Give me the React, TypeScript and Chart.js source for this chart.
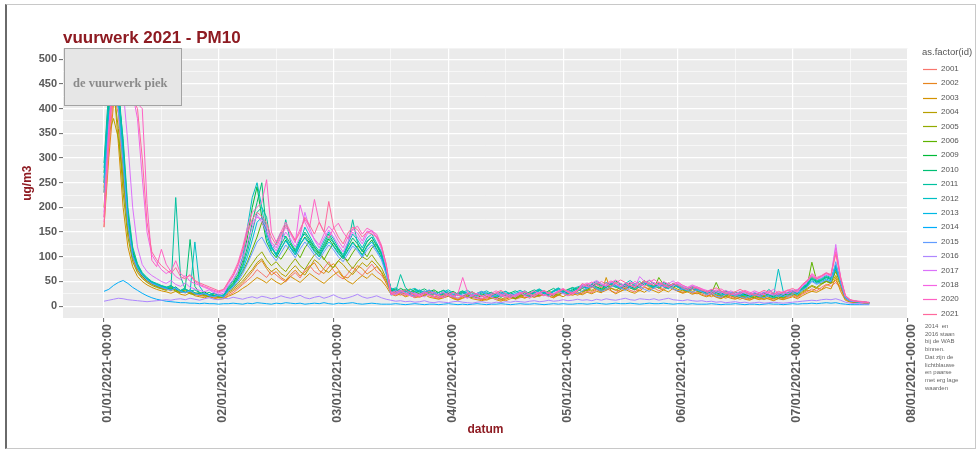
import React, { useEffect, useRef } from 'react';
import { Chart, registerables } from 'chart.js';

Chart.register(...registerables);

const SANS = "'Liberation Sans', Arial, sans-serif";
const SERIF = "'Liberation Serif', 'DejaVu Serif', serif";
const DARKRED = '#8E1B22';
const TICK_TEXT = '#5a5a5a';

const TITLE = 'vuurwerk 2021 - PM10';
const X_TITLE = 'datum';
const Y_TITLE = 'ug/m3';
const LEGEND_TITLE = 'as.factor(id)';
const NOTE_LINES = ['2014  en', '2016 staan', 'bij de WAB', 'binnen.', 'Dat zijn de', 'lichtblauwe', 'en paarse', 'met erg lage', 'waarden'];

// hours since 01/01/2021 00:00
const HOURS = [0,1,2,3,4,5,6,7,8,9,10,11,12,13,14,15,16,17,18,19,20,21,22,23,24,25,26,27,28,29,30,31,32,33,34,35,36,37,38,39,40,41,42,43,44,45,46,47,48,49,50,51,52,53,54,55,56,57,58,59,60,61,62,63,64,65,66,67,68,69,70,71,72,73,74,75,76,77,78,79,80,81,82,83,84,85,86,87,88,89,90,91,92,93,94,95,96,97,98,99,100,101,102,103,104,105,106,107,108,109,110,111,112,113,114,115,116,117,118,119,120,121,122,123,124,125,126,127,128,129,130,131,132,133,134,135,136,137,138,139,140,141,142,143,144,145,146,147,148,149,150,151,152,153,154,155,156,157,158,159,160];

const X_TICKS = [0, 24, 48, 72, 96, 120, 144, 168];
const X_MINOR = [12, 36, 60, 84, 108, 132, 156];
const X_TICK_LABELS = ['01/01/2021-00:00', '02/01/2021-00:00', '03/01/2021-00:00', '04/01/2021-00:00', '05/01/2021-00:00', '06/01/2021-00:00', '07/01/2021-00:00', '08/01/2021-00:00'];
const Y_TICKS = [0, 50, 100, 150, 200, 250, 300, 350, 400, 450, 500];
const Y_MINOR = [25, 75, 125, 175, 225, 275, 325, 375, 425, 475];
const X_MIN = -8.57;
const X_MAX = 168.1;
const Y_MIN = -24;
const Y_MAX = 522;

const SERIES_IDS = ['2001','2002','2003','2004','2005','2006','2009','2010','2011','2012','2013','2014','2015','2016','2017','2018','2020','2021'];
const SERIES_COLORS = ['#F8766D','#E7851E','#D39200','#B79F00','#93AA00','#5EB300','#00BA38','#00BF74','#00C19F','#00BFC4','#00B9E3','#00ADFA','#619CFF','#AE87FF','#DB72FB','#F564E3','#FF61C3','#FF699C'];

const S2001 = [180,320,430,390,250,150,95,70,58,49,44,40,36, 33,38,30,28,34,26,24,21,23,18,17,19,16, 22,27,35,44,52,61,74,66,58,71,63,55,49,60,68,57,74,82,70,64,77,90,72,61,55,66,79,70,62,74,85,71,63,48, 30,26,22,27,24,19,23,28,21,18,16,20,24,17,14,19,22,18,15,13,17,20,15,12,16,19,14,17,21,16,23,19,25,20,17,22,27,21,24,28, 25,30,27,33,29,36,31,27,34,38,32,29,35,40,33,37,31,36,42,34,30,27,32,26,29,24, 21,25,19,17,22,18,15,20,16,13,17,14,19,15,12,16,14,18,21,17, 24,29,35,31,38,44,40,48,36,14,10,8,9,7,7];
const S2002 = [160,300,410,420,300,170,110,78,62,52,46,41,37, 35,31,36,29,27,31,25,22,20,24,19,17,18, 25,31,38,47,58,70,84,92,76,63,70,58,52,64,73,61,69,80,88,72,66,79,86,74,60,57,68,82,76,65,72,80,68,46, 28,24,27,21,25,20,18,22,26,19,15,18,21,16,13,17,20,23,17,14,12,16,19,14,11,15,18,22,17,20,18,24,21,26,19,23,29,24,27,22, 27,33,30,35,28,32,37,33,30,36,41,34,31,38,35,42,37,33,39,35,31,28,33,27,25,28, 23,19,24,20,16,21,17,14,18,15,20,16,13,17,15,19,16,20,24,19, 26,32,30,37,34,42,46,52,38,15,9,8,7,6,6];
const S2003 = [240,380,450,330,200,120,80,60,50,43,38,34,31, 29,26,30,24,22,27,21,19,17,20,16,14,15, 20,24,29,36,42,50,58,53,47,56,49,44,51,60,54,48,57,66,59,52,46,55,63,70,58,50,45,54,62,56,66,58,52,40, 24,21,25,19,22,17,20,24,18,16,14,17,20,15,12,16,19,15,13,11,14,17,13,10,14,18,15,19,16,22,18,21,26,20,17,23,19,25,22,26, 23,28,25,30,27,58,31,25,30,34,29,26,32,28,35,31,27,33,29,36,30,26,29,24,27,22, 19,23,18,15,20,16,14,18,14,12,16,13,17,14,11,15,13,16,19,15, 21,26,30,28,33,38,35,58,30,12,8,7,7,6,6];
const S2004 = [200,350,380,340,260,160,100,74,60,52,45,40,36, 34,38,32,29,33,27,25,28,22,20,23,18,19, 28,34,42,51,63,74,88,96,80,70,77,66,60,72,82,70,63,78,94,86,74,68,80,92,84,72,64,76,88,80,92,82,70,52, 32,27,30,24,28,22,25,29,23,20,18,22,25,19,16,20,24,21,17,15,19,22,17,14,18,21,16,20,24,19,26,22,28,23,20,25,31,26,29,25, 30,36,32,39,34,41,36,32,38,43,37,33,40,46,38,42,36,41,47,39,34,31,36,30,33,27, 25,29,22,20,26,21,18,23,19,16,21,17,22,18,15,19,16,21,25,20, 28,34,40,36,44,50,46,62,42,16,10,8,8,7,6];
const S2005 = [230,400,440,360,230,140,90,68,56,48,42,38,35, 32,36,30,27,31,25,23,26,21,19,22,17,18, 30,37,46,58,72,86,100,110,94,82,90,78,70,84,96,82,74,90,104,110,96,84,78,92,102,88,76,90,100,94,104,90,78,56, 27,33,25,29,35,28,24,21,26,30,23,19,22,18,24,27,20,17,21,25,19,16,22,26,21,18,15,20,23,28,24,21,26,31,25,22,29,34,27,30, 36,31,39,44,37,33,41,47,40,35,43,38,45,52,43,37,46,40,36,44,38,33,29,35,30,27, 31,24,28,21,19,25,29,22,18,21,25,19,16,22,26,20,17,23,27,22, 30,36,42,38,46,52,48,70,44,16,10,9,8,7,7];
const S2006 = [250,410,460,420,280,160,100,75,60,52,46,41,38, 36,40,33,30,35,29,26,24,28,22,20,23,19, 34,42,55,70,90,115,140,170,150,120,104,95,110,126,112,98,118,132,120,106,94,112,128,116,100,92,108,122,114,100,118,126,108,72, 31,35,28,33,26,30,24,28,32,25,22,26,21,18,24,28,23,19,17,22,26,20,17,21,25,19,16,23,27,22,20,26,30,24,21,28,33,26,30,35, 29,34,40,35,31,38,44,39,34,42,37,33,40,46,41,36,58,43,38,45,40,35,31,36,32,28, 30,26,48,27,22,25,21,18,24,20,17,22,19,23,18,16,21,25,22,27, 33,40,89,52,45,50,47,74,46,18,11,9,8,7,7];
const S2009 = [270,420,470,440,320,180,110,80,64,55,48,43,40, 37,34,39,31,28,33,27,25,29,23,21,24,20, 38,48,64,92,140,200,242,180,130,110,98,116,134,118,104,124,140,128,112,100,118,136,122,108,96,114,130,118,104,122,134,116,100,70, 33,29,36,31,27,34,30,25,29,33,27,23,26,30,24,20,25,29,23,19,24,28,22,18,23,27,21,25,29,24,28,32,26,23,30,35,29,26,33,37, 41,36,44,39,35,42,48,42,37,45,40,36,44,50,44,39,47,42,37,46,41,36,33,38,34,30, 27,32,28,24,30,25,22,27,23,20,25,21,26,22,19,24,21,26,30,25, 35,42,56,48,52,58,54,78,50,18,11,9,8,8,7];
const S2010 = [290,440,480,450,330,190,115,84,66,56,49,45,41, 38,42,35,32,37,135,40,27,24,28,22,20,22, 36,46,60,84,120,170,210,250,150,118,104,124,142,126,110,132,150,136,120,108,126,146,130,114,100,120,138,126,110,130,140,124,106,74, 36,32,28,34,30,26,31,35,29,25,28,32,26,22,27,31,25,21,26,30,24,20,25,29,23,27,31,26,22,29,33,28,24,31,36,30,27,34,38,33, 38,44,40,47,42,37,45,51,44,39,47,42,38,46,52,45,40,48,43,38,44,39,35,40,36,32, 29,33,30,26,31,27,24,29,25,22,27,23,28,24,21,26,23,28,32,27, 37,44,58,50,54,60,56,82,52,19,12,10,9,8,7];
const S2011 = [260,400,460,430,340,200,120,86,68,58,50,46,42, 39,36,220,60,34,30,33,27,25,22,26,21,23, 34,44,58,80,110,150,190,200,180,120,106,126,175,130,114,136,146,132,116,104,122,140,128,112,100,124,175,128,112,132,140,122,104,72, 35,30,64,38,29,33,27,31,26,23,28,32,25,21,26,30,24,20,25,29,23,27,22,26,30,24,21,27,31,25,29,34,28,24,31,36,29,33,37,31, 36,42,38,45,40,48,43,38,46,41,37,44,50,43,47,41,37,45,40,46,41,37,34,39,35,31, 28,32,27,30,25,23,28,24,21,26,22,27,23,34,25,22,27,24,29,26, 36,43,55,49,53,58,54,80,51,18,12,10,9,8,7];
const S2012 = [280,430,470,450,310,175,105,80,65,56,49,44,40, 37,41,34,31,35,29,130,40,26,23,27,21,22, 40,52,70,100,160,220,250,200,140,112,128,150,138,120,108,130,160,142,124,112,132,150,136,118,104,126,146,134,118,138,146,128,110,76, 34,37,31,28,33,36,30,26,32,28,24,29,33,27,23,28,32,26,22,27,31,25,21,26,30,24,28,32,27,23,30,35,29,25,32,37,31,28,35,39, 42,37,45,50,44,39,47,42,38,46,52,45,40,48,43,39,46,41,38,44,40,36,33,38,34,31, 28,24,30,26,23,28,24,21,27,23,26,22,28,24,21,75,30,25,29,33, 38,46,60,52,56,62,58,84,54,20,12,10,9,8,7];
const S2013 = [250,390,450,410,300,170,104,78,63,54,47,43,39, 36,33,38,30,28,32,26,24,27,21,20,23,19, 32,41,54,74,100,134,170,180,150,120,102,118,132,118,104,126,138,124,110,100,116,130,120,106,96,112,128,116,102,120,130,114,98,68, 29,33,27,31,25,29,33,27,24,28,22,26,30,24,21,25,29,23,20,24,28,22,19,23,27,21,25,29,23,20,27,31,26,22,29,34,28,25,31,35, 39,35,42,37,33,40,46,40,36,43,38,34,41,47,41,37,44,39,35,43,38,34,31,36,32,29, 26,30,25,22,27,23,20,25,21,18,23,19,24,20,17,22,19,24,28,23, 33,40,52,46,50,55,51,76,48,17,11,9,8,7,7];
const S2014 = [30,34,42,48,52,46,38,32,26,21,17,14,12, 10,9,8,7,7,6,6,5,6,5,5,4,5, 5,6,5,4,6,5,7,6,5,4,6,5,7,6,5,6,4,5,6,5,7,5,4,6,5,6,7,5,4,5,6,5,4,4, 4,5,4,3,4,5,4,3,4,4,3,4,5,4,3,4,3,4,5,4,3,4,4,5,4,3,4,5,4,4,5,4,3,4,5,4,5,4,4,5, 5,4,5,6,5,4,5,6,5,5,6,5,4,5,6,5,5,6,5,4,5,5,4,5,4,4, 4,5,4,3,4,4,5,4,3,4,4,3,4,5,4,4,3,4,5,4, 5,5,6,5,6,7,6,7,5,4,3,3,3,3,3];
const S2015 = [230,370,430,400,290,165,100,76,62,53,46,42,38, 35,32,37,29,27,31,25,23,26,21,19,22,18, 30,38,50,66,86,108,130,140,122,104,92,108,124,112,98,116,130,118,104,94,110,124,114,100,90,106,122,112,98,114,124,110,94,64, 22,26,31,27,23,20,25,29,33,26,21,18,23,27,24,20,17,22,26,30,24,19,22,27,23,18,21,25,29,24,20,26,31,27,23,29,26,32,28,25, 31,36,41,35,30,34,39,43,37,32,38,44,39,34,30,37,42,46,39,35,31,36,32,28,33,29, 23,27,20,18,24,28,22,19,16,21,25,20,17,22,26,19,23,20,24,28, 32,38,50,44,48,53,49,90,46,16,10,9,8,7,7];
const S2016 = [10,12,14,16,15,13,12,11,10,9,10,11,12, 13,12,14,15,13,16,14,12,15,17,14,13,16, 15,18,16,14,17,19,16,20,18,15,17,21,18,16,19,22,17,15,18,20,16,19,23,18,15,17,20,24,19,16,18,21,17,14, 12,10,11,9,10,8,9,11,8,7,9,8,7,9,10,8,7,6,8,9,7,6,8,7,9,8,10,9,8,10,11,9,10,12,10,11,13,11,12,14, 12,13,11,14,12,15,13,12,14,16,13,12,15,14,13,15,12,14,16,13,12,11,13,11,10,11, 9,10,8,9,7,8,9,7,8,6,7,8,6,7,8,7,6,7,8,9, 10,11,12,11,13,14,13,15,12,8,6,5,5,4,4];
const S2017 = [190,340,470,480,440,330,200,120,84,70,62,56,50, 46,52,44,40,47,38,35,32,29,33,27,24,26, 42,54,70,96,130,160,185,170,150,126,112,132,150,136,120,140,190,158,134,118,138,154,140,124,110,130,150,140,126,146,154,138,116,80, 28,24,30,26,21,27,23,19,25,29,22,18,23,20,16,22,26,19,15,20,24,18,14,21,25,19,23,27,21,17,24,28,23,19,26,31,25,21,28,33, 44,39,47,52,46,41,49,44,39,47,42,38,60,50,44,48,42,39,46,51,44,39,36,41,37,33, 30,34,29,26,32,27,24,30,26,23,28,24,29,25,22,27,24,29,33,28, 40,48,62,54,58,64,60,125,56,20,12,10,9,8,7];
const S2018 = [180,360,490,510,480,460,430,380,260,150,104,88,74, 66,72,60,54,62,50,46,42,38,34,30,27,30, 46,60,80,110,150,170,180,176,160,130,118,140,160,146,128,205,170,150,136,124,146,162,150,132,118,140,156,148,132,152,150,142,120,82, 27,31,26,22,29,25,21,27,23,19,24,28,21,18,23,20,16,22,26,20,17,23,27,21,18,24,21,26,30,23,20,27,31,25,22,30,34,28,24,31, 42,47,41,49,44,40,48,53,46,41,49,44,40,47,53,47,42,50,45,40,47,42,38,43,39,35, 32,28,33,29,25,31,27,24,30,26,31,27,23,28,34,26,29,25,31,34, 42,50,64,56,60,66,62,118,58,21,13,10,9,8,7];
const S2020 = [170,350,480,520,500,470,440,410,400,208,93,80,115, 85,70,92,66,58,62,50,44,40,36,32,29,33, 50,66,88,120,160,190,200,210,256,150,130,150,170,150,134,156,176,160,216,170,150,138,158,168,150,136,156,162,146,158,152,146,124,84, 23,28,33,26,21,18,24,29,23,19,16,22,27,21,25,58,29,22,18,15,21,26,31,24,20,17,23,28,22,26,31,25,21,28,24,31,36,29,25,32, 38,44,49,43,39,46,51,47,41,37,44,50,45,40,48,54,47,42,38,45,49,42,38,34,39,35, 28,24,30,35,29,25,22,27,32,28,24,21,26,31,27,23,29,33,28,31, 43,51,66,58,62,68,64,110,60,22,13,11,10,9,8];
const S2021 = [160,330,460,500,490,470,420,400,300,170,110,94,82, 74,66,78,60,55,64,52,47,43,39,35,31,34, 48,62,84,114,150,176,190,182,168,140,124,144,164,150,132,150,180,164,146,170,150,212,160,140,126,148,160,155,140,150,146,140,122,86, 26,22,28,33,27,23,19,25,30,24,20,17,23,28,22,19,24,29,23,20,16,22,27,32,25,21,18,24,29,24,21,27,32,26,23,29,34,30,26,33, 46,41,37,44,50,45,40,47,53,48,43,38,45,51,46,42,49,44,39,46,42,37,33,39,36,32, 29,33,37,31,26,23,29,34,29,25,22,27,32,28,24,30,27,32,36,30, 44,52,60,55,61,67,63,105,57,21,13,10,9,8,7];

const SERIES_VALUES = [S2001,S2002,S2003,S2004,S2005,S2006,S2009,S2010,S2011,S2012,S2013,S2014,S2015,S2016,S2017,S2018,S2020,S2021];

const PEAK_NOTE = { text: 'de vuurwerk piek', xFrom: -8.4, xTo: 16.1, yFrom: 407, yTo: 522, textX: 3.4, textY: 451 };

const panelPlugin = {
  id: 'ggPanel',
  beforeDraw(chart: any) {
    const { ctx, chartArea: a } = chart;
    ctx.save();
    ctx.fillStyle = '#EBEBEB';
    ctx.fillRect(a.left, a.top, a.right - a.left, a.bottom - a.top);
    ctx.restore();
  },
};

const peakNotePlugin = {
  id: 'peakNote',
  afterDatasetsDraw(chart: any) {
    const { ctx } = chart;
    const xs = chart.scales.x;
    const ys = chart.scales.y;
    const x0 = xs.getPixelForValue(PEAK_NOTE.xFrom);
    const x1 = xs.getPixelForValue(PEAK_NOTE.xTo);
    const y0 = ys.getPixelForValue(PEAK_NOTE.yTo);
    const y1 = ys.getPixelForValue(PEAK_NOTE.yFrom);
    ctx.save();
    ctx.fillStyle = '#E6E6E6';
    ctx.fillRect(x0, y0, x1 - x0, y1 - y0);
    ctx.strokeStyle = '#A3A3A3';
    ctx.lineWidth = 1;
    ctx.strokeRect(Math.round(x0) + 0.5, Math.round(y0) + 0.5, Math.round(x1 - x0), Math.round(y1 - y0));
    ctx.fillStyle = '#8a8a8a';
    ctx.font = `bold 12.5px ${SERIF}`;
    ctx.textAlign = 'center';
    ctx.textBaseline = 'middle';
    ctx.fillText(PEAK_NOTE.text, xs.getPixelForValue(PEAK_NOTE.textX), ys.getPixelForValue(PEAK_NOTE.textY));
    ctx.restore();
  },
};

const legendPlugin = {
  id: 'ggLegend',
  afterDraw(chart: any) {
    const { ctx, chartArea: a } = chart;
    const left = a.right + 14;
    ctx.save();
    ctx.textAlign = 'left';
    ctx.textBaseline = 'middle';
    ctx.fillStyle = '#555';
    ctx.font = `9.5px ${SANS}`;
    ctx.fillText(LEGEND_TITLE, left, a.top + 4);
    ctx.font = `8px ${SANS}`;
    chart.data.datasets.forEach((ds: any, i: number) => {
      const y = a.top + 20.3 + i * 14.41;
      ctx.strokeStyle = ds.borderColor;
      ctx.lineWidth = 1.2;
      ctx.beginPath();
      ctx.moveTo(left + 1, Math.round(y) + 0.5);
      ctx.lineTo(left + 15, Math.round(y) + 0.5);
      ctx.stroke();
      ctx.fillStyle = '#555';
      ctx.fillText(ds.label, left + 19, y);
    });
    ctx.restore();
  },
};

export default function App() {
  const ref = useRef<HTMLCanvasElement | null>(null);

  useEffect(() => {
    if (!ref.current) return;
    Chart.defaults.font.family = SANS;
    const n = SERIES_IDS.length;
    const datasets = SERIES_IDS.map((id, i) => ({
      label: id,
      data: HOURS.map((h, j) => ({ x: h, y: SERIES_VALUES[i][j] ?? null })),
      borderColor: SERIES_COLORS[i],
      backgroundColor: SERIES_COLORS[i],
      borderWidth: 1,
      pointRadius: 0,
      tension: 0,
      fill: false,
      order: n - i,
    }));
    const isMajorX = (v: number) => X_TICKS.includes(v);
    const isMajorY = (v: number) => Y_TICKS.includes(v);
    const chart = new Chart(ref.current, {
      type: 'line',
      data: { datasets },
      options: {
        responsive: false,
        animation: false,
        devicePixelRatio: 1,
        events: [],
        layout: { padding: { left: 8, right: 72, top: 28, bottom: 0 } },
        plugins: {
          legend: { display: false },
          tooltip: { enabled: false },
          title: {
            display: true,
            text: TITLE,
            align: 'start',
            color: DARKRED,
            fullSize: false,
            font: { family: SANS, size: 17, weight: 'bold', lineHeight: 1.2 },
            padding: { top: 0, bottom: 0 },
          },
        },
        scales: {
          x: {
            type: 'linear',
            min: X_MIN,
            max: X_MAX,
            afterBuildTicks: (s: any) => {
              s.ticks = [...X_TICKS, ...X_MINOR].sort((a, b) => a - b).map((v) => ({ value: v }));
            },
            afterFit: (s: any) => {
              s.height = 135;
            },
            ticks: {
              autoSkip: false,
              minRotation: 90,
              maxRotation: 90,
              padding: 2,
              labelOffset: 4,
              color: TICK_TEXT,
              font: { family: SANS, size: 12.5, weight: 'bold' },
              callback: (v: any) => {
                const k = X_TICKS.indexOf(Number(v));
                return k >= 0 ? X_TICK_LABELS[k] : '';
              },
            },
            grid: {
              color: '#FFFFFF',
              lineWidth: (c: any) => (isMajorX(c.tick?.value) ? 1.2 : 0.6),
              tickColor: (c: any) => (isMajorX(c.tick?.value) ? '#666' : 'rgba(0,0,0,0)'),
              tickLength: 4,
              tickWidth: 1,
            },
            border: { display: false },
            title: {
              display: true,
              text: X_TITLE,
              color: DARKRED,
              font: { family: SANS, size: 12, weight: 'bold', lineHeight: 1.2 },
              padding: { top: 0, bottom: 16 },
            },
          },
          y: {
            type: 'linear',
            min: Y_MIN,
            max: Y_MAX,
            afterBuildTicks: (s: any) => {
              s.ticks = [...Y_TICKS, ...Y_MINOR].sort((a, b) => a - b).map((v) => ({ value: v }));
            },
            afterFit: (s: any) => {
              s.width = 55;
            },
            ticks: {
              autoSkip: false,
              padding: 2,
              color: TICK_TEXT,
              font: { family: SANS, size: 11, weight: 'bold' },
              callback: (v: any) => (isMajorY(Number(v)) ? String(v) : ''),
            },
            grid: {
              color: '#FFFFFF',
              lineWidth: (c: any) => (isMajorY(c.tick?.value) ? 1.2 : 0.6),
              tickColor: (c: any) => (isMajorY(c.tick?.value) ? '#666' : 'rgba(0,0,0,0)'),
              tickLength: 4,
              tickWidth: 1,
            },
            border: { display: false },
            title: {
              display: true,
              text: Y_TITLE,
              color: DARKRED,
              font: { family: SANS, size: 12, weight: 'bold', lineHeight: 1.2 },
              padding: { top: 12, bottom: 0 },
            },
          },
        },
      },
      plugins: [panelPlugin, peakNotePlugin, legendPlugin],
    } as any);
    return () => chart.destroy();
  }, []);

  return (
    <div style={{ position: 'fixed', left: 0, top: 0, width: 980, height: 453, background: '#fff', overflow: 'hidden' }}>
      <canvas ref={ref} width={980} height={453} style={{ position: 'absolute', left: 0, top: 0, width: 980, height: 453 }} />
      <div style={{ position: 'absolute', left: 5, top: 4, width: 968, height: 443, borderTop: '1px solid #c8c8c8', borderRight: '1px solid #c8c8c8', borderBottom: '1px solid #c8c8c8', borderLeft: '2px solid #6a6a6a', pointerEvents: 'none' }} />
      <div style={{ position: 'absolute', left: 925, top: 323, fontFamily: SANS, fontSize: 6, lineHeight: '7.7px', color: '#666', whiteSpace: 'pre' }}>
        {NOTE_LINES.join('\n')}
      </div>
    </div>
  );
}
